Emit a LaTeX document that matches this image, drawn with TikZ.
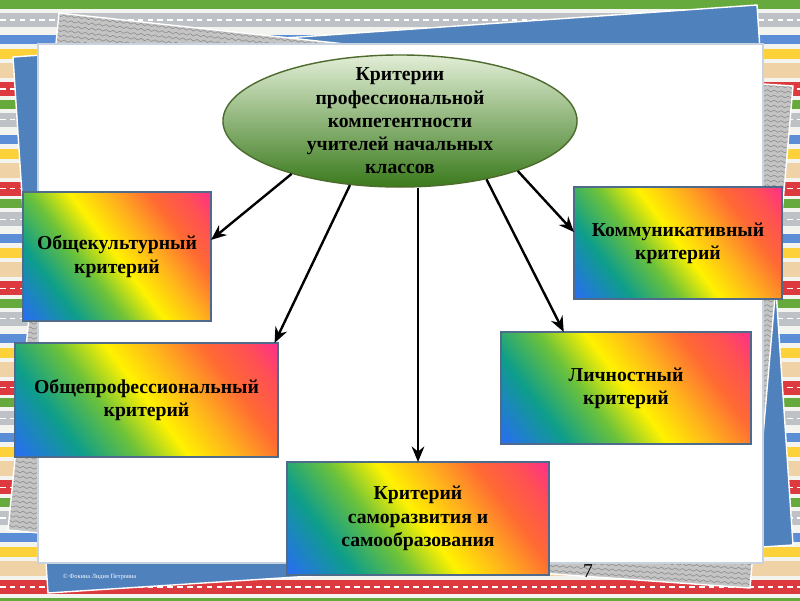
\documentclass[tikz,border=0pt]{standalone}
\usepackage{fontspec}
\setmainfont{Liberation Serif}
\usetikzlibrary{arrows.meta, shapes.geometric, decorations.pathmorphing}
\definecolor{bgpaper}{HTML}{F3F3EF}
\definecolor{stripeGreen}{HTML}{66AA3E}
\definecolor{stripeGray}{HTML}{BEC1C5}
\definecolor{stripeBlue}{HTML}{5B8ED6}
\definecolor{stripeYellow}{HTML}{FDD13A}
\definecolor{stripeBeige}{HTML}{EFD2A6}
\definecolor{stripeRed}{HTML}{DC3A3F}
\definecolor{sheetBlue}{HTML}{4F81BD}
\definecolor{sheetGray}{HTML}{C4C4C4}
\definecolor{waveGray}{HTML}{8A8A8A}
\definecolor{paperEdge}{HTML}{C9D3E0}
\definecolor{boxedge}{HTML}{4E6B8C}
\definecolor{rbBlue}{HTML}{2A6CF5}
\definecolor{rbTeal}{HTML}{0E9E8A}
\definecolor{rbGreen}{HTML}{6CC23A}
\definecolor{rbYellow}{HTML}{FFF200}
\definecolor{rbOrange}{HTML}{FFB21C}
\definecolor{rbRedOr}{HTML}{FF6A33}
\definecolor{rbRed}{HTML}{FF4F55}
\definecolor{rbPink}{HTML}{FF2E8C}
\definecolor{ellTop}{HTML}{E2EED6}
\definecolor{ellMid}{HTML}{9BC46B}
\definecolor{ellBot}{HTML}{3A7A1C}
\definecolor{ellEdge}{HTML}{4C6B2C}

\pgfdeclarehorizontalshading{rainbowfill}{100bp}{color(0bp)=(rbBlue); color(25bp)=(rbBlue);
  color(35bp)=(rbTeal); color(43bp)=(rbGreen); color(50bp)=(rbYellow); color(57bp)=(rbOrange);
  color(64bp)=(rbRedOr); color(70bp)=(rbRed); color(75bp)=(rbPink); color(100bp)=(rbPink)}

\newcommand{\critfont}{\fontsize{14}{16.5}\selectfont\bfseries}

\tikzset{
  critbox/.style={draw=boxedge, line width=0.8pt, inner sep=0pt, outer sep=0pt,
    align=center, font=\critfont,
    path picture={\shade[shading=rainbowfill, shading angle=37]
      (path picture bounding box.center) ++(-#1,-#1) rectangle ++(2*#1,2*#1);}},
  critell/.style={ellipse, draw=ellEdge, line width=1pt, top color=ellTop,
    middle color=ellMid, bottom color=ellBot, inner xsep=0pt, inner ysep=-8pt,
    minimum width=8.85cm, minimum height=3.3cm, align=center, font=\critfont},
  critarrow/.style={-{Stealth[length=11pt,width=9pt]}, line width=1.7pt, black},
  wave/.style={waveGray, line width=0.4pt, decorate,
    decoration={snake, amplitude=0.7pt, segment length=5pt}}
}

\begin{document}
\begin{tikzpicture}[x=0.025cm, y=-0.025cm]
  \useasboundingbox (0,0) rectangle (800,600);
  \clip (0,0) rectangle (800,600);
  % Striped background
  \fill[bgpaper] (0,0) rectangle (800,600);
  \foreach \k in {0,...,6} {
    \pgfmathsetmacro{\yo}{\k*99.6}
    \fill[stripeGreen] (0,\yo) rectangle (800,\yo+9);
    \fill[stripeGray] (0,\yo+13) rectangle (800,\yo+27);
    \draw[white, line width=0.8pt, dash pattern=on 4pt off 3pt] (0,\yo+20) -- (800,\yo+20);
    \fill[stripeBlue] (0,\yo+35) rectangle (800,\yo+44);
    \fill[stripeYellow] (0,\yo+49) rectangle (800,\yo+59);
    \fill[stripeBeige] (0,\yo+63) rectangle (800,\yo+78);
    \fill[stripeRed] (0,\yo+82) rectangle (800,\yo+96);
    \draw[white, line width=0.8pt, dash pattern=on 4pt off 3pt] (0,\yo+89) -- (800,\yo+89);
  }
  % Blue sheet
  \filldraw[fill=sheetBlue, draw=white, line width=1pt]
    (13,57) -- (757,5) -- (793,545) -- (48,593) -- cycle;
  % Gray wavy sheets (waves only where they show)
  \begin{scope}
    \clip (59,13) -- (345,44) -- (320,560) -- (8,530) -- cycle;
    \fill[sheetGray] (0,0) rectangle (400,600);
    \foreach \w in {0,5,...,50}
      \draw[wave] (55,\w) -- (350,\w+32);
    \foreach \w in {40,45,...,560}
      \draw[wave] (0,\w) -- (42,\w+4);
  \end{scope}
  \draw[white, line width=1pt] (59,13) -- (345,44) -- (320,560) -- (8,530) -- cycle;
  \begin{scope}
    \clip (400,60) -- (793,86) -- (750,588) -- (300,556) -- cycle;
    \fill[sheetGray] (280,40) rectangle (800,600);
    \foreach \w in {75,80,...,570}
      \draw[wave] (758,\w) -- (800,\w+3);
    \foreach \w in {535,540,...,595}
      \draw[wave] (540,\w) -- (765,\w+15);
  \end{scope}
  \draw[white, line width=1pt] (400,60) -- (793,86) -- (750,588) -- (300,556) -- cycle;
  % White slide panel
  \filldraw[fill=white, draw=paperEdge, line width=0.8pt] (38,44) rectangle (763,563);
  \node[font=\fontsize{4.5}{5}\selectfont, text=white, anchor=west] (author)
    at (58,577) {© Фокина Лидия Петровна};
  \node[font=\fontsize{14}{14}\selectfont] (pagenum) at (588,571) {7};
  % Central ellipse
  \node[critell] (crit) at (400,121)
    {Критерии\\профессиональной\\компетентности\\учителей начальных\\классов};
  % Criteria boxes
  \node[critbox=2.85cm, minimum width=4.7cm, minimum height=3.225cm] (cult)
    at (117,256.5) {Общекультурный\\критерий};
  \node[critbox=3.48cm, minimum width=6.575cm, minimum height=2.85cm] (prof)
    at (146.5,400) {Общепрофессиональный\\критерий};
  \node[critbox=3.47cm, minimum width=6.55cm, minimum height=2.825cm] (self)
    at (418,518.5) {Критерий\\саморазвития и\\самообразования};
  \node[critbox=2.92cm, minimum width=5.2cm, minimum height=2.8cm] (comm)
    at (678,243) {Коммуникативный\\критерий};
  \node[critbox=3.34cm, minimum width=6.25cm, minimum height=2.8cm] (pers)
    at (626,388) {Личностный\\критерий};
  % Arrows
  \draw[critarrow] (crit.206) -- (cult.10);
  \draw[critarrow] (crit.232) -- (prof.24);
  \draw[critarrow] (crit.south -| self.north) -- (self.north);
  \draw[critarrow] (crit.326) -- (pers.138);
  \draw[critarrow] (crit.337) -- (comm.174);
\end{tikzpicture}
\end{document}
